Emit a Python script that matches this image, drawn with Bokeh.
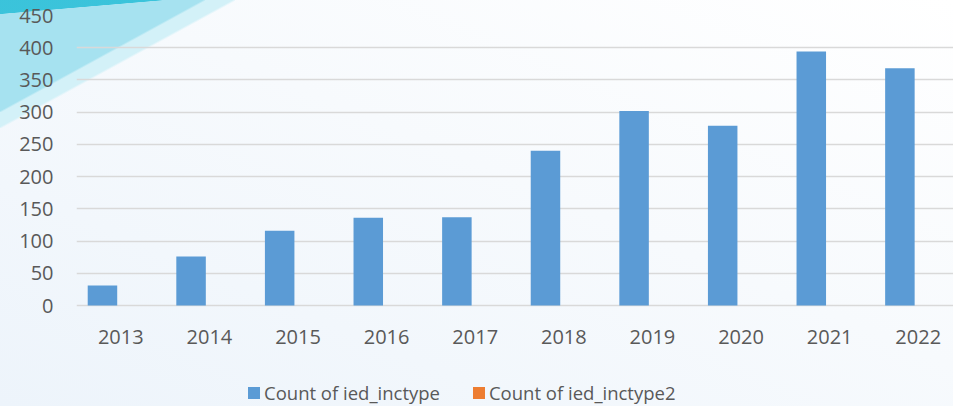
from bokeh.plotting import figure
from bokeh.models import (ColumnDataSource, FixedTicker, Range1d, Legend, LegendItem)
from bokeh.core.properties import value
from bokeh.transform import dodge
from bokeh.embed import file_html
from bokeh.resources import INLINE

# ---- data ----
years = ["2013", "2014", "2015", "2016", "2017", "2018", "2019", "2020", "2021", "2022"]
count_ied_inctype = [31, 76, 116, 136, 137, 240, 302, 279, 394, 368]
count_ied_inctype2 = [0, 0, 0, 0, 0, 0, 0, 0, 0, 0]
y_ticks = [0, 50, 100, 150, 200, 250, 300, 350, 400, 450]

BLUE = "#5B9BD5"
ORANGE = "#ED7D31"
TEXT = "#595959"
GRID = "#D9D9D9"
FONT = "Open Sans"

idx = list(range(len(years)))
src = ColumnDataSource(dict(x=idx, a=count_ied_inctype, b=count_ied_inctype2, label=years))

# the frame runs below zero so that category labels and legend live inside it
p = figure(width=953, height=406, output_backend="svg", toolbar_location=None,
           x_range=Range1d(-0.5, 9.398), y_range=Range1d(-156.7, 450),
           min_border_left=76, min_border_right=0, min_border_top=15,
           min_border_bottom=0)
p.background_fill_color = None
p.border_fill_color = None
p.outline_line_color = None
# page-like background: light gradient with a cyan swoosh in the top-left corner
p.styles = {
    "background-image": (
        "linear-gradient(to bottom right, rgba(40,190,215,0.85) 49%, rgba(40,190,215,0) 51%),"
        "linear-gradient(to bottom right, #A6E2F0 49.5%, rgba(166,226,240,0) 50.5%),"
        "linear-gradient(to bottom right, #D3F1F8 49.5%, rgba(211,241,248,0) 50.5%),"
        "linear-gradient(to top right, #EDF4FB 0%, #F7FAFD 55%, #FFFFFF 100%)"
    ),
    "background-size": "165px 14px, 205px 112px, 235px 128px, 100% 100%",
    "background-repeat": "no-repeat",
    "background-position": "0 0, 0 0, 0 0, 0 0",
}

r1 = p.vbar(x=dodge("x", -0.207), top="a", width=0.333, source=src,
            fill_color=BLUE, line_color=None)
r2 = p.vbar(x=dodge("x", 0.126), top="b", width=0.333, source=src,
            fill_color=ORANGE, line_color=None)

# category labels
p.text(x="x", y=-48.1, text="label", source=src, text_font=value(FONT),
       text_font_size=value("20px"), text_color=TEXT, text_align="center",
       text_baseline="middle")

p.xaxis.visible = False

p.yaxis.ticker = FixedTicker(ticks=y_ticks)
p.yaxis.major_tick_line_color = None
p.yaxis.major_tick_out = 0
p.yaxis.major_tick_in = 0
p.yaxis.minor_tick_line_color = None
p.yaxis.axis_line_color = None
p.yaxis.major_label_text_font = FONT
p.yaxis.major_label_text_font_size = "20px"
p.yaxis.major_label_text_color = TEXT
p.yaxis.major_label_standoff = 23

p.xgrid.grid_line_color = None
p.ygrid.ticker = FixedTicker(ticks=y_ticks)
p.ygrid.grid_line_color = GRID
p.ygrid.grid_line_width = 1.3

legend = Legend(items=[LegendItem(label="Count of ied_inctype", renderers=[r1]),
                       LegendItem(label="Count of ied_inctype2", renderers=[r2])],
                orientation="horizontal", location=(170, 1),
                glyph_width=15, glyph_height=15, label_standoff=3, spacing=31,
                padding=0, margin=0, border_line_color=None,
                background_fill_alpha=0, label_text_font=FONT,
                label_text_font_size="18.5px", label_text_color=TEXT,
                label_height=25)
p.add_layout(legend, "center")

open("out.html", "w").write(file_html(p, INLINE))
